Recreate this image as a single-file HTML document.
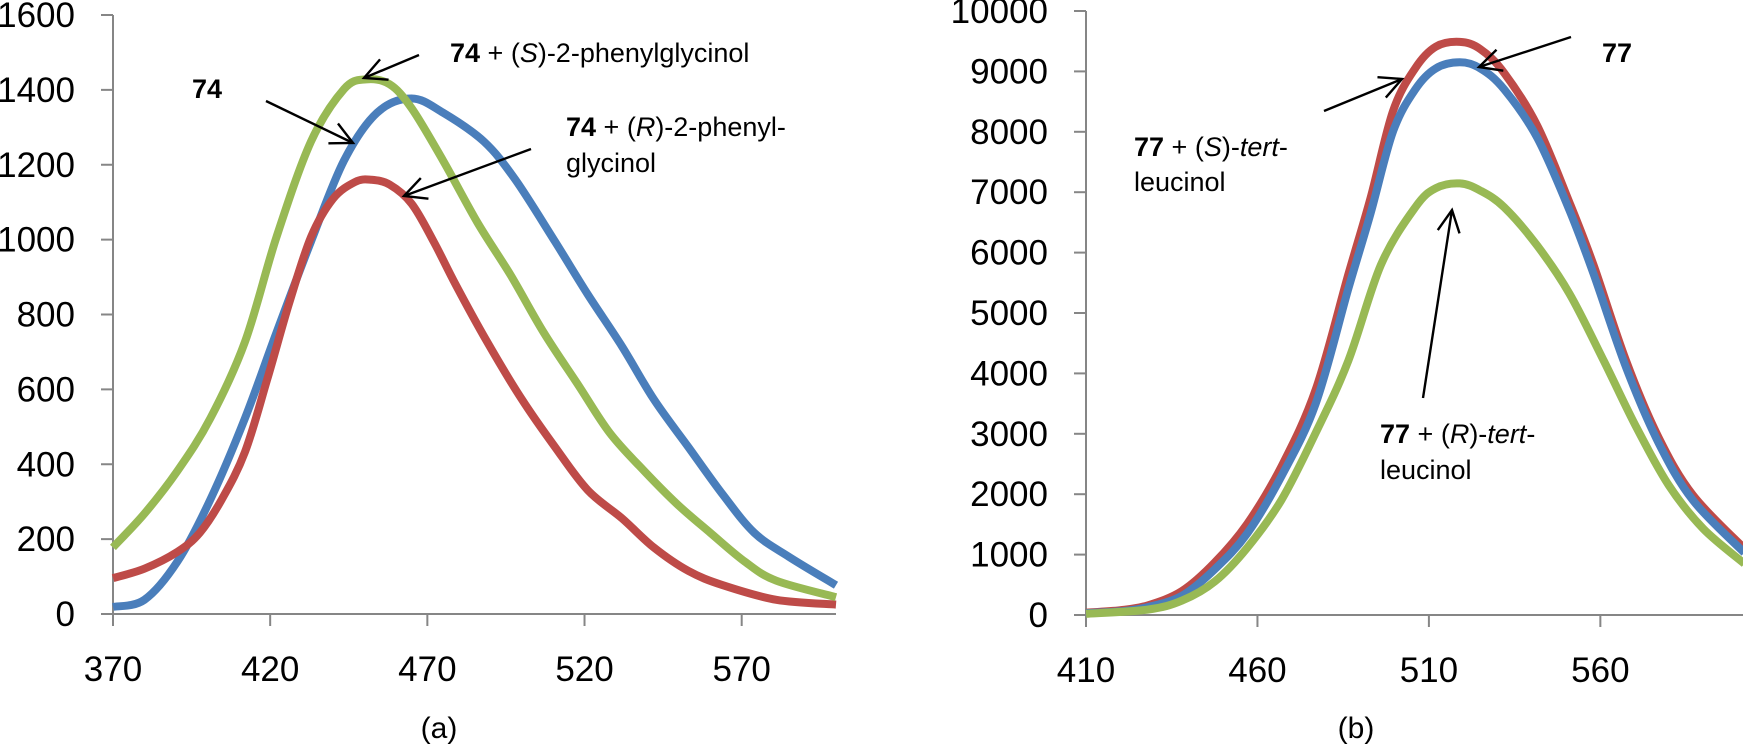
<!DOCTYPE html>
<html><head><meta charset="utf-8"><style>
body{margin:0;background:#fff}
svg{display:block}
text{font-family:"Liberation Sans",sans-serif}
</style></head><body>
<svg id="chart" width="1743" height="745" viewBox="0 0 1743 745" xmlns="http://www.w3.org/2000/svg">
<defs><marker id="ah" viewBox="0 0 28 28" refX="25" refY="14" markerWidth="28" markerHeight="28" markerUnits="userSpaceOnUse" orient="auto"><path d="M3,3 L25,14 L3,25" fill="none" stroke="#000" stroke-width="2.4"/></marker></defs>
<g id="panelA"></g>
<g id="panelB"></g>
<g font-size="27">
<text x="450" y="62"><tspan font-weight="bold">74</tspan> + (<tspan font-style="italic">S</tspan>)-2-phenylglycinol</text>
<line x1="419" y1="55" x2="364" y2="78" stroke="#000" stroke-width="2.4" marker-end="url(#ah)"/>
<text x="192" y="98" font-weight="bold">74</text>
<line x1="266" y1="101" x2="353" y2="143" stroke="#000" stroke-width="2.4" marker-end="url(#ah)"/>
<text x="566" y="136"><tspan font-weight="bold">74</tspan> + (<tspan font-style="italic">R</tspan>)-2-phenyl-</text>
<text x="566" y="172">glycinol</text>
<line x1="531" y1="149" x2="404" y2="196" stroke="#000" stroke-width="2.4" marker-end="url(#ah)"/>
<text x="439" y="738" text-anchor="middle" font-family="Liberation Serif, serif" font-size="30">(a)</text>
</g>
<g font-size="27">
<text x="1602" y="62" font-weight="bold">77</text>
<line x1="1571" y1="37" x2="1479" y2="67" stroke="#000" stroke-width="2.4" marker-end="url(#ah)"/>
<text x="1134" y="156"><tspan font-weight="bold">77</tspan> + (<tspan font-style="italic">S</tspan>)-<tspan font-style="italic">tert</tspan>-</text>
<text x="1134" y="191">leucinol</text>
<line x1="1324" y1="111" x2="1402" y2="79" stroke="#000" stroke-width="2.4" marker-end="url(#ah)"/>
<text x="1380" y="443"><tspan font-weight="bold">77</tspan> + (<tspan font-style="italic">R</tspan>)-<tspan font-style="italic">tert</tspan>-</text>
<text x="1380" y="479">leucinol</text>
<line x1="1423" y1="398" x2="1452" y2="210" stroke="#000" stroke-width="2.4" marker-end="url(#ah)"/>
<text x="1356" y="738" text-anchor="middle" font-family="Liberation Serif, serif" font-size="30">(b)</text>
</g>
</svg>
<script>
// Panel (a) data
const aBlueX=[370,380,390.5,401,412,422,433,443.5,454,465,475,488,498,510.6,521,532,542,553,564,574,585,600];
const aBlueY=[19,38,140,306,523,752,995,1211,1339,1377,1339,1262,1160,995,854,714,574,446,319,217,153,77];
const aGreenX=[370,380,390.5,401,412,422,433,443.5,450.5,458,465,475,486,496.5,507,518,528,539,549.5,560,571,581,600];
const aGreenY=[178,268,382,523,727,1007,1262,1402,1428,1415,1351,1211,1045,905,752,612,484,382,293,217,140,89,45];
const aRedX=[370,380,390.5,397.6,404.6,412,419,426,433,440,447,452,458,465,472,479,489,500,510.6,521,532,542,553,564,581,600];
const aRedY=[96,121,166,217,306,433,625,829,1007,1109,1154,1160,1147,1096,995,880,727,574,446,331,255,178,115,77,38,25];
const aYTicks=[0,200,400,600,800,1000,1200,1400,1600];
const aXTicks=[370,420,470,520,570];
// Panel (b) data
const bRedX=[410,420,428,438,447.6,457,467,477,486.5,493,499.5,506,512,519,525,532,541.6,551,558,567.5,577,587,602];
const bRedY=[40,80,159,397,873,1509,2461,3732,5637,6908,8337,9052,9409,9488,9369,8972,8099,6828,5796,4208,2938,1985,1100];
const bBlueX=[410,420,428,438,447.6,457,467,477,486.5,493,499.5,506,512,519,525,532,541.6,551,558,567.5,577,587,602];
const bBlueY=[30,60,130,320,760,1350,2300,3500,5400,6650,8000,8700,9050,9150,9050,8700,7900,6700,5650,4100,2850,1900,1030];
const bGreenX=[410,428,438,447.6,457,467,477,486.5,496,506,512,519,525,532,541.6,551,561,570.6,580,590,602];
const bGreenY=[20,90,238,556,1112,1906,3017,4208,5796,6749,7067,7146,7027,6749,6114,5320,4208,3097,2144,1429,850];
const bYTicks=[0,1000,2000,3000,4000,5000,6000,7000,8000,9000,10000];
const bXTicks=[410,460,510,560];

const NS="http://www.w3.org/2000/svg";
function mk(tag,attrs,parent){const e=document.createElementNS(NS,tag);for(const k in attrs)e.setAttribute(k,attrs[k]);parent.appendChild(e);return e;}
function smooth(pts){
  let d='M'+pts[0][0].toFixed(1)+','+pts[0][1].toFixed(1);
  for(let i=0;i<pts.length-1;i++){
    const p0=pts[i-1]||pts[i],p1=pts[i],p2=pts[i+1],p3=pts[i+2]||p2;
    const c1=[p1[0]+(p2[0]-p0[0])/6,p1[1]+(p2[1]-p0[1])/6];
    const c2=[p2[0]-(p3[0]-p1[0])/6,p2[1]-(p3[1]-p1[1])/6];
    d+=' C'+c1[0].toFixed(1)+','+c1[1].toFixed(1)+' '+c2[0].toFixed(1)+','+c2[1].toFixed(1)+' '+p2[0].toFixed(1)+','+p2[1].toFixed(1);
  }
  return d;
}
function panel(g,cfg){
  const sx=v=>cfg.x0+(v-cfg.xmin)/(cfg.xmax-cfg.xmin)*(cfg.x1-cfg.x0);
  const sy=v=>cfg.y0-(v-cfg.ymin)/(cfg.ymax-cfg.ymin)*(cfg.y0-cfg.y1);
  const ax=mk('line',{x1:cfg.x0-12,y1:cfg.y0,x2:cfg.x1,y2:cfg.y0,stroke:'#868686','stroke-width':2},g);
  
  
  const ay=mk('line',{x1:cfg.x0,y1:cfg.y0+12,x2:cfg.x0,y2:cfg.y1,stroke:'#868686','stroke-width':2},g);
  
  
  cfg.yt.forEach(v=>{
    const y=sy(v);
    const t=mk('line',{x1:cfg.x0-12,y1:y,x2:cfg.x0,y2:y,stroke:'#868686','stroke-width':2},g);
    
    
    const l=mk('text',{x:cfg.x0-38,y:y+12,'text-anchor':'end','font-size':35},g);
    l.textContent=v;
    
    
  });
  cfg.xt.forEach(v=>{
    const x=sx(v);
    const t=mk('line',{x1:x,y1:cfg.y0,x2:x,y2:cfg.y0+12,stroke:'#868686','stroke-width':2},g);
    
    
    const l=mk('text',{x:x,y:cfg.y0+67,'text-anchor':'middle','font-size':35},g);
    l.textContent=v;
    
    
  });
  cfg.series.forEach(s=>{
    const pts=s.xs.map((v,i)=>[sx(v),sy(s.ys[i])]);
    const p=mk('path',{d:smooth(pts),fill:'none',stroke:s.c,'stroke-width':8,'stroke-linejoin':'round'},g);
    
    
  });
}
panel(document.getElementById('panelA'),{x0:113,x1:836,xmin:370,xmax:600,y0:614,y1:15,ymin:0,ymax:1600,yt:aYTicks,xt:aXTicks,
  series:[{xs:aBlueX,ys:aBlueY,c:'#4a7ebb',n:'series-74'},{xs:aRedX,ys:aRedY,c:'#be4b48',n:'series-74-r-phenylglycinol'},{xs:aGreenX,ys:aGreenY,c:'#98b954',n:'series-74-s-phenylglycinol'}]});
panel(document.getElementById('panelB'),{x0:1086,x1:1743,xmin:410,xmax:601.6,y0:615,y1:11,ymin:0,ymax:10000,yt:bYTicks,xt:bXTicks,
  series:[{xs:bRedX,ys:bRedY,c:'#be4b48',n:'series-77-s-tert-leucinol'},{xs:bBlueX,ys:bBlueY,c:'#4a7ebb',n:'series-77'},{xs:bGreenX,ys:bGreenY,c:'#98b954',n:'series-77-r-tert-leucinol'}]});
</script>
</body></html>
